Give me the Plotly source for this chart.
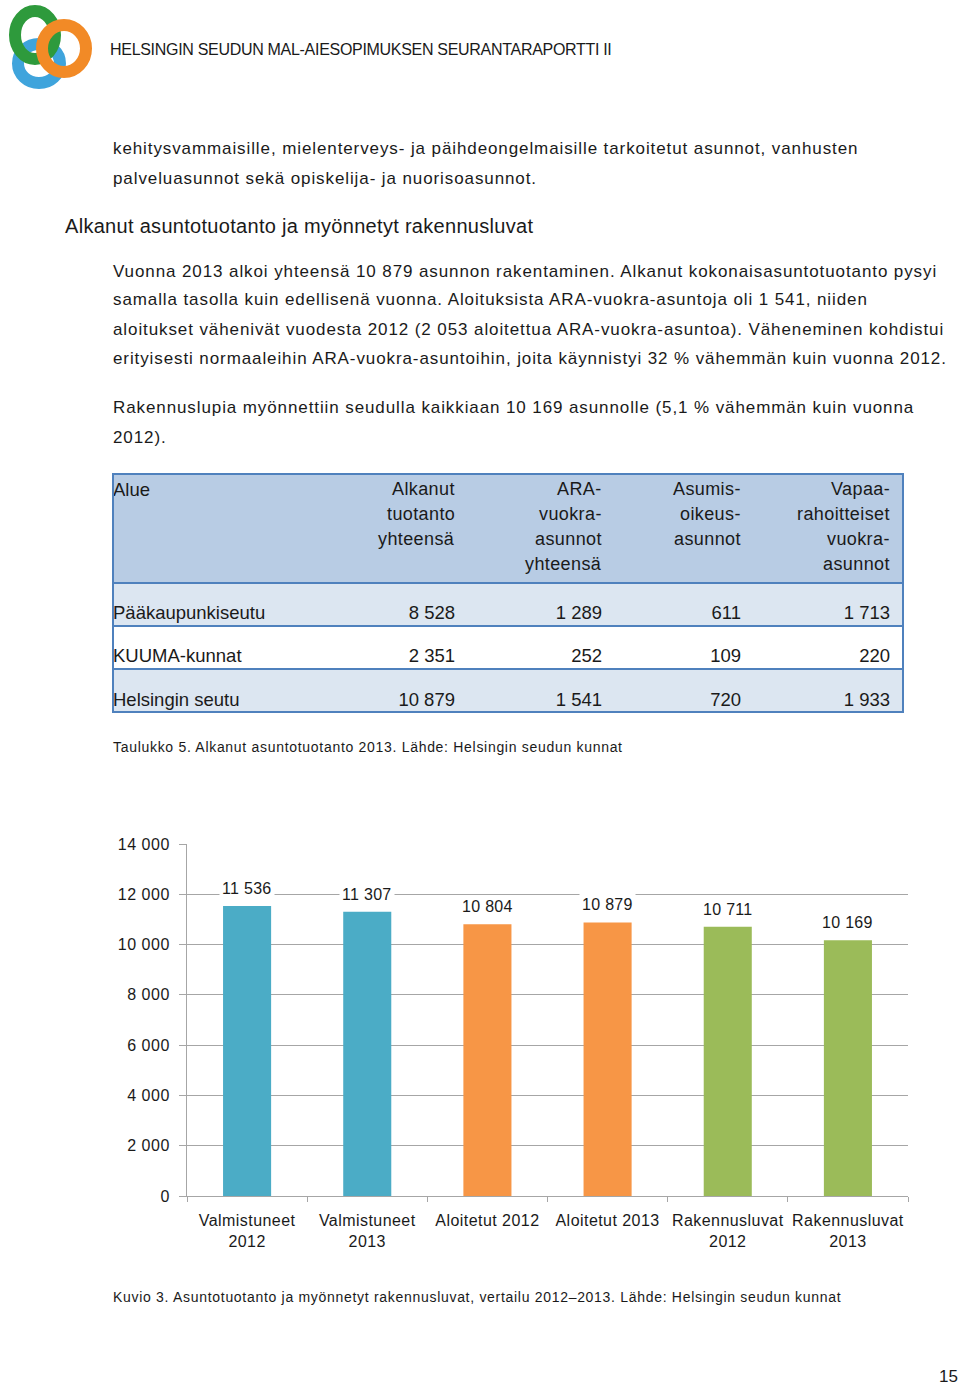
import plotly.graph_objects as go

W, H = 960, 1385

# --- dati ---
categories = ["Valmistuneet<br>2012", "Valmistuneet<br>2013", "Aloitetut 2012",
              "Aloitetut 2013", "Rakennusluvat<br>2012", "Rakennusluvat<br>2013"]
values = [11536, 11307, 10804, 10879, 10711, 10169]
bar_colors = ["#4BACC6", "#4BACC6", "#F79646", "#F79646", "#9BBB59", "#9BBB59"]
y_ticks = [0, 2000, 4000, 6000, 8000, 10000, 12000, 14000]

table_header = ["Alue", "Alkanut<br>tuotanto<br>yhteensä", "ARA-<br>vuokra-<br>asunnot<br>yhteensä",
                "Asumis-<br>oikeus-<br>asunnot", "Vapaa-<br>rahoitteiset<br>vuokra-<br>asunnot"]
regions = ["Pääkaupunkiseutu", "KUUMA-kunnat", "Helsingin seutu"]
alkanut = [8528, 2351, 10879]
ara = [1289, 252, 1541]
asumisoikeus = [611, 109, 720]
vapaa = [1713, 220, 1933]

page_lines = [
    (113, 149, 17, 0.9, "kehitysvammaisille, mielenterveys- ja päihdeongelmaisille tarkoitetut asunnot, vanhusten"),
    (113, 178, 17, 0.9, "palveluasunnot sekä opiskelija- ja nuorisoasunnot."),
    (65, 226, 20, 0.3, "Alkanut asuntotuotanto ja myönnetyt rakennusluvat"),
    (113, 271, 17, 0.9, "Vuonna 2013 alkoi yhteensä 10 879 asunnon rakentaminen. Alkanut kokonaisasuntotuotanto pysyi"),
    (113, 300, 17, 0.9, "samalla tasolla kuin edellisenä vuonna. Aloituksista ARA-vuokra-asuntoja oli 1 541, niiden"),
    (113, 329, 17, 0.9, "aloitukset vähenivät vuodesta 2012 (2 053 aloitettua ARA-vuokra-asuntoa). Väheneminen kohdistui"),
    (113, 358, 17, 0.9, "erityisesti normaaleihin ARA-vuokra-asuntoihin, joita käynnistyi 32 % vähemmän kuin vuonna 2012."),
    (113, 408, 17, 0.9, "Rakennuslupia myönnettiin seudulla kaikkiaan 10 169 asunnolle (5,1 % vähemmän kuin vuonna"),
    (113, 437, 17, 0.9, "2012)."),
    (113, 747, 14, 0.7, "Taulukko 5. Alkanut asuntotuotanto 2013. Lähde: Helsingin seudun kunnat"),
    (113, 1297, 14, 0.7, "Kuvio 3. Asuntotuotanto ja myönnetyt rakennusluvat, vertailu 2012–2013. Lähde: Helsingin seudun kunnat"),
    (110, 50, 16, -0.3, "HELSINGIN SEUDUN MAL-AIESOPIMUKSEN SEURANTARAPORTTI II"),
]


def fmt(v):
    return f"{v:,}".replace(",", " ")


def sp(t, ls):
    return f'<span style="letter-spacing:{ls}px">{t}</span>'


def px(x):
    return x / W


def py(y):
    return 1 - y / H


FONT = "Liberation Sans, Arial, sans-serif"
TXT = "#1a1a1a"
GRID = "#A6A6A6"
BLUE = "#4F81BD"

fig = go.Figure()

fig.add_trace(go.Bar(
    x=categories, y=values, marker=dict(color=bar_colors, line=dict(width=0)),
    width=0.4, showlegend=False, hoverinfo="y"
))

# taulukko
fig.add_trace(go.Table(
    domain=dict(x=[px(105), px(898)], y=[py(723), py(474)]),
    columnwidth=[195, 163, 147, 139, 149],
    header=dict(values=[table_header[0], "", "", "", ""], align="left",
                height=123, fill_color="rgba(0,0,0,0)", line=dict(width=0),
                font=dict(family=FONT, size=18.5, color=TXT)),
    cells=dict(values=[regions, [fmt(v) for v in alkanut], [fmt(v) for v in ara],
                       [fmt(v) for v in asumisoikeus], [fmt(v) for v in vapaa]],
               align=["left", "right", "right", "right", "right"],
               height=43.5, fill_color="rgba(0,0,0,0)", line=dict(width=0),
               font=dict(family=FONT, size=18.5, color=TXT)),
))

shapes = []
for y0, y1, col in [(474, 583, "#B8CCE4"), (583, 626, "#DCE6F1"), (669, 712, "#DCE6F1")]:
    shapes.append(dict(type="rect", xref="paper", yref="paper", x0=px(113), x1=px(903),
                       y0=py(y1), y1=py(y0), fillcolor=col, line=dict(width=0), layer="below"))
for yy in [583, 626, 669]:
    shapes.append(dict(type="line", xref="paper", yref="paper", x0=px(113), x1=px(903),
                       y0=py(yy), y1=py(yy), line=dict(color=BLUE, width=2)))
shapes.append(dict(type="rect", xref="paper", yref="paper", x0=px(113), x1=px(903),
                   y0=py(712), y1=py(474), line=dict(color=BLUE, width=2)))

# logo
for x0, x1, y0, y1, col in [(18, 60, 44, 83, "#3FA4DC"), (15, 55, 11, 59, "#2E9A3C"),
                            (42, 86, 25, 72, "#F28A26")]:
    shapes.append(dict(type="circle", xref="paper", yref="paper", x0=px(x0), x1=px(x1),
                       y0=py(y1), y1=py(y0), line=dict(color=col, width=12)))

annotations = []
for x, y, size, ls, t in page_lines:
    annotations.append(dict(xref="paper", yref="paper", x=px(x - 2), y=py(y), xanchor="left", yanchor="middle",
                            text=sp(t, ls), showarrow=False, font=dict(family=FONT, size=size, color=TXT)))
annotations.append(dict(xref="paper", yref="paper", x=px(960), y=py(1376), xanchor="right", yanchor="middle",
                        text="15", showarrow=False, font=dict(family=FONT, size=17, color=TXT)))

# taulukon otsikkorivin tekstit (oikealle tasattu rivi kerrallaan)
for right, head in zip([455, 602, 741, 890], table_header[1:]):
    for k, line in enumerate(head.split("<br>")):
        annotations.append(dict(xref="paper", yref="paper", x=px(right + 2), y=py(489 + 25 * k),
                                xanchor="right", yanchor="middle", text=sp(line, 0.4), showarrow=False,
                                font=dict(family=FONT, size=18, color=TXT)))

# arvot pylväiden päälle
for c, v in zip(categories, values):
    annotations.append(dict(x=c, y=v, xref="x", yref="y", yanchor="bottom", yshift=6,
                            text=sp(fmt(v), 0.3), showarrow=False, bgcolor="white", borderpad=2,
                            font=dict(family=FONT, size=16, color=TXT)))

fig.update_layout(
    width=W, height=H, margin=dict(l=0, r=0, t=0, b=0),
    paper_bgcolor="white", plot_bgcolor="white",
    font=dict(family=FONT, size=16, color=TXT),
    shapes=shapes, annotations=annotations,
    xaxis=dict(domain=[px(187), px(908)], type="category", automargin=False,
               tickvals=categories, ticktext=[sp(c, 0.45) for c in categories], tickangle=0,
               showline=True, linecolor=GRID, linewidth=1,
               ticks="outside", tickson="boundaries", ticklen=5, tickcolor=GRID,
               showgrid=False, ticklabelstandoff=10, tickfont=dict(size=16, color=TXT)),
    yaxis=dict(domain=[py(1196), py(844)], range=[0, 14000], automargin=False,
               tickvals=y_ticks, ticktext=[sp(fmt(v), 0.5) for v in y_ticks],
               showline=True, linecolor=GRID, linewidth=1, ticks="outside", ticklen=7, tickcolor=GRID,
               ticklabelstandoff=6,
               gridcolor=GRID, gridwidth=1, zeroline=False, tickfont=dict(size=16, color=TXT)),
    bargap=0.6,
)

fig.write_html("out.html", config={"displayModeBar": False},
               post_script="document.body.style.margin='0';")
